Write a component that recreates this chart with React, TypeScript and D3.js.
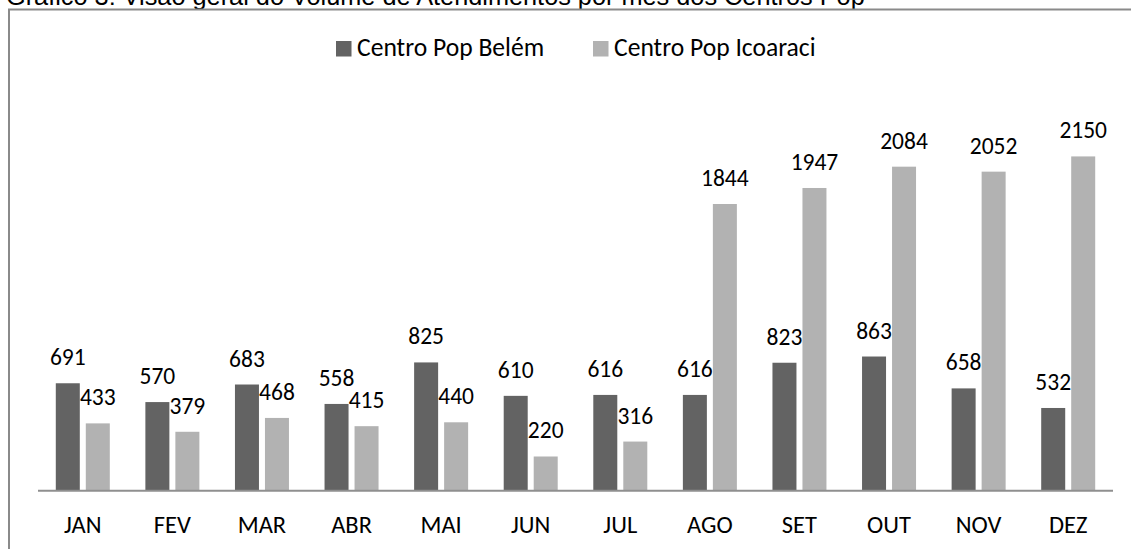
import React from "react";
import * as d3 from "d3";

const months = ["JAN", "FEV", "MAR", "ABR", "MAI", "JUN", "JUL", "AGO", "SET", "OUT", "NOV", "DEZ"];
const belem = [691, 570, 683, 558, 825, 610, 616, 616, 823, 863, 658, 532];
const icoaraci = [433, 379, 468, 415, 440, 220, 316, 1844, 1947, 2084, 2052, 2150];
const seriesNames = ["Centro Pop Belém", "Centro Pop Icoaraci"];
const seriesColors = ["#636363", "#b2b2b2"];
const title = "Gráfico 3: Visão geral do Volume de Atendimentos por mês dos Centros Pop";

const W = 1131;
const H = 549;
const plotLeft = 38;
const plotRight = 1113;
const baseY = 490.7;
const topY = 102;
const FONT = "Carlito, Calibri, Lato, 'Open Sans', sans-serif";

export default function App() {
  const x0 = d3.scaleBand<string>().domain(months).range([plotLeft, plotRight]);
  const y = d3.scaleLinear().domain([0, 2500]).range([baseY, topY]);
  const barW = 24;
  const gap = 6;
  const data = [belem, icoaraci];

  return (
    <svg
      width={W}
      height={H}
      style={{ position: "absolute", left: 0, top: 0, display: "block", background: "#fff" }}
    >
      <text x={6} y={5} fontFamily="'Liberation Sans', Arial, sans-serif" fontSize={25.3} fill="#000">
        {title}
      </text>
      <rect x={9} y={9.5} width={W + 20} height={H + 20} fill="none" stroke="#8a8a8a" strokeWidth={2} />
      {/* legend */}
      <g fontFamily={FONT} fontSize={25.6} fill="#000">
        <rect x={336} y={41} width={15.5} height={15.5} fill={seriesColors[0]} />
        <text x={357} y={56}>{seriesNames[0]}</text>
        <rect x={593} y={41} width={15.5} height={15.5} fill={seriesColors[1]} />
        <text x={614} y={56}>{seriesNames[1]}</text>
      </g>
      {months.map((m, i) => {
        const cx = x0(m)! + x0.bandwidth() / 2;
        return (
          <g key={m}>
            {data.map((series, s) => {
              const bx = s === 0 ? cx - gap / 2 - barW : cx + gap / 2;
              const v = series[i];
              return (
                <g key={s}>
                  <rect x={bx} y={y(v)} width={barW} height={baseY - y(v)} fill={seriesColors[s]} />
                  <text
                    x={bx + barW / 2}
                    y={y(v) - 18}
                    textAnchor="middle"
                    fontFamily={FONT}
                    fontSize={23.5}
                    fill="#000"
                  >
                    {v}
                  </text>
                </g>
              );
            })}
            <text x={cx} y={533} textAnchor="middle" fontFamily={FONT} fontSize={24.5} fill="#000">
              {m}
            </text>
          </g>
        );
      })}
      <line x1={plotLeft} x2={plotRight} y1={baseY} y2={baseY} stroke="#8f8f8f" strokeWidth={2} />
    </svg>
  );
}
